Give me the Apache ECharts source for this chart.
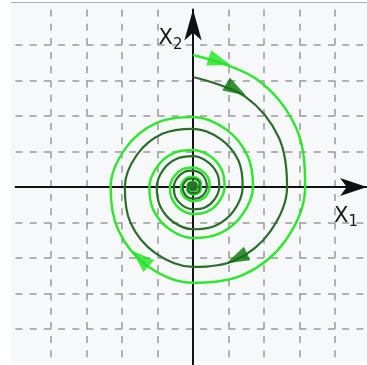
<!DOCTYPE html>
<html>
<head>
<meta charset="utf-8">
<script src="https://cdn.jsdelivr.net/npm/echarts@6/dist/echarts.min.js"></script>
<style>
  html, body { margin: 0; padding: 0; background: #ffffff; }
  #chart { width: 367px; height: 365px; }
</style>
</head>
<body>
<div id="chart"></div>
<script>
// Phase portrait of a stable focus: two trajectories spiralling clockwise into the origin.

// Angle turned (degrees, clockwise from the +x2 direction) at each sample of the trajectories
const spiralAngles = [
  0, 30, 60, 90, 120, 150, 180, 210, 240, 270, 300, 330,
  360, 390, 420, 450, 480, 510, 540, 570, 600, 630, 660, 690,
  720, 750, 780, 810, 840, 870, 900, 930, 960, 990, 1020, 1050,
  1080, 1110, 1140, 1170, 1200, 1230, 1260, 1290, 1320, 1350, 1380, 1410,
  1440, 1500, 1560, 1620, 1680, 1740, 1800, 1860, 1920, 1980, 2040, 2100, 2160,
  2220, 2280, 2340, 2400, 2460, 2520, 2580
];

// Distance from the origin (grid units) of the outer, light trajectory
const lightRadii = [
  3.72, 3.53, 3.35, 3.16, 3.01, 2.85, 2.70, 2.57, 2.43, 2.32, 2.19, 2.08,
  1.97, 1.87, 1.77, 1.69, 1.59, 1.51, 1.44, 1.36, 1.29, 1.23, 1.16, 1.10,
  1.04, 0.99, 0.94, 0.89, 0.84, 0.80, 0.76, 0.72, 0.68, 0.65, 0.61, 0.58,
  0.55, 0.52, 0.50, 0.47, 0.45, 0.42, 0.40, 0.38, 0.36, 0.34, 0.32, 0.31,
  0.29, 0.26, 0.24, 0.21, 0.19, 0.17, 0.15, 0.14, 0.13, 0.11, 0.10, 0.09, 0.08,
  0.07, 0.07, 0.06, 0.05, 0.05, 0.04, 0.00
];

// Distance from the origin (grid units) of the inner, dark trajectory
const darkRadii = [
  3.10, 2.94, 2.79, 2.65, 2.51, 2.38, 2.25, 2.14, 2.03, 1.92, 1.82, 1.73,
  1.64, 1.56, 1.48, 1.40, 1.33, 1.26, 1.19, 1.13, 1.07, 1.02, 0.97, 0.92,
  0.87, 0.82, 0.78, 0.74, 0.70, 0.67, 0.63, 0.60, 0.57, 0.54, 0.51, 0.49,
  0.46, 0.44, 0.41, 0.39, 0.37, 0.35, 0.33, 0.32, 0.30, 0.29, 0.27, 0.26,
  0.24, 0.22, 0.20, 0.18, 0.16, 0.14, 0.13, 0.12, 0.10, 0.09, 0.08, 0.08, 0.07,
  0.06, 0.05, 0.05, 0.04, 0.04, 0.03, 0.00
];

// Direction markers on each trajectory: [x1, x2, heading in degrees]
const lightArrows = [[0.75, 3.54, -18], [-1.48, -2.01, 137]];
const darkArrows = [[1.21, 2.74, -30], [1.23, -2.01, 205]];

// Axis extents and grid step (grid units)
const x1Range = [-5, 4.9];
const x2Range = [-5, 5];
const gridStep = 1;

const LIGHT_LINE = '#30e630';
const LIGHT_HEAD = '#1fe41f';
const DARK_LINE = '#2a6e2a';
const DARK_HEAD = '#087608';
const AXIS_COLOR = '#111111';
const GRID_COLOR = '#999999';
const FONT = 'DejaVu Sans';

const toPolar = (radii) => spiralAngles.map((a, i) => [radii[i], a]);

const nameRich = {
  x: { fontFamily: FONT, fontSize: 21, color: '#1a1a1a', verticalAlign: 'top', lineHeight: 24 },
  s: { fontFamily: FONT, fontSize: 15, color: '#1a1a1a', verticalAlign: 'top', padding: [9, 0, 0, 0] }
};

const splitLineStyle = {
  show: true,
  showMinLine: false,
  showMaxLine: false,
  lineStyle: { color: GRID_COLOR, width: 1.5, type: [7, 7.2] }
};

const chart = echarts.init(document.getElementById('chart'), null, { renderer: 'canvas' });

chart.setOption({
  animation: false,
  backgroundColor: '#ffffff',
  graphic: [
    {
      type: 'rect', z: -100, silent: true,
      shape: { x: 11, y: 2, width: 356, height: 360 },
      style: { fill: '#f7f8fa' }
    },
    {
      type: 'line', z: -99, silent: true,
      shape: { x1: 11, y1: 2.5, x2: 367, y2: 2.5 },
      style: { stroke: '#a8adb4', lineWidth: 1 }
    }
  ],
  grid: { left: 15.5, right: 0, top: 9.5, bottom: 0.5, outerBoundsMode: 'none' },
  xAxis: {
    type: 'value',
    min: x1Range[0], max: x1Range[1], interval: gridStep,
    name: '{x|X}{s|1}',
    nameLocation: 'end',
    nameGap: -33,
    nameTextStyle: { align: 'left', verticalAlign: 'top', padding: [19, 0, 0, 0], rich: nameRich },
    axisLine: {
      onZero: true,
      symbol: ['none', 'arrow'],
      symbolSize: [13.5, 27],
      symbolOffset: [0, 0],
      lineStyle: { color: AXIS_COLOR, width: 2 }
    },
    axisTick: { show: false },
    axisLabel: { show: false },
    splitLine: splitLineStyle
  },
  yAxis: {
    type: 'value',
    min: x2Range[0], max: x2Range[1], interval: gridStep,
    name: '{x|X}{s|2}',
    nameLocation: 'end',
    nameGap: -43,
    nameTextStyle: { align: 'right', verticalAlign: 'bottom', padding: [0, 10.5, 0, 0], rich: nameRich },
    axisLine: {
      onZero: true,
      symbol: ['none', 'arrow'],
      symbolSize: [13, 31],
      symbolOffset: [0, 0],
      lineStyle: { color: AXIS_COLOR, width: 2 }
    },
    axisTick: { show: false },
    axisLabel: { show: false },
    splitLine: splitLineStyle
  },
  polar: { center: [193, 187], radius: 177.5 },
  angleAxis: { type: 'value', min: 0, max: 360, startAngle: 90, clockwise: true, show: false },
  radiusAxis: { type: 'value', min: 0, max: 5, show: false },
  series: [
    {
      name: 'light trajectory',
      type: 'line',
      coordinateSystem: 'polar',
      data: toPolar(lightRadii),
      smooth: 0.35,
      showSymbol: false,
      clip: false,
      lineStyle: { color: LIGHT_LINE, width: 2.5 },
      z: 3
    },
    {
      name: 'dark trajectory',
      type: 'line',
      coordinateSystem: 'polar',
      data: toPolar(darkRadii),
      smooth: 0.35,
      showSymbol: false,
      clip: false,
      lineStyle: { color: DARK_LINE, width: 2.2 },
      z: 3
    },
    {
      name: 'light direction',
      type: 'scatter',
      data: lightArrows,
      symbol: 'triangle',
      symbolSize: [16, 23],
      symbolRotate: (v) => v[2] - 90,
      itemStyle: { color: LIGHT_HEAD },
      z: 4
    },
    {
      name: 'dark direction',
      type: 'scatter',
      data: darkArrows,
      symbol: 'triangle',
      symbolSize: [15, 23],
      symbolRotate: (v) => v[2] - 90,
      itemStyle: { color: DARK_HEAD },
      z: 4
    }
  ]
});
</script>
</body>
</html>
